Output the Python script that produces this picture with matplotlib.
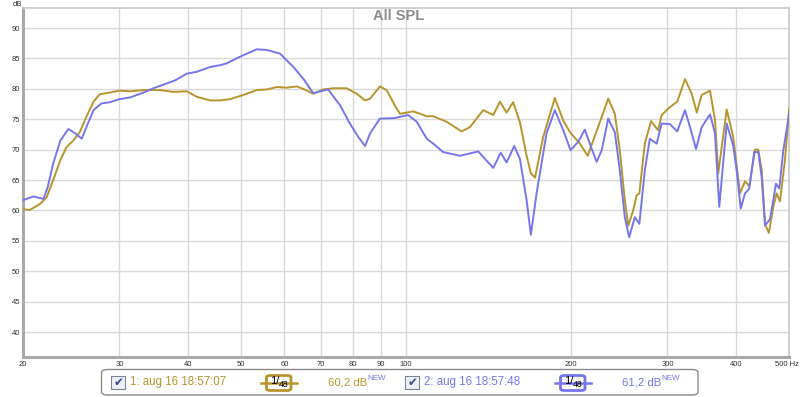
import matplotlib
matplotlib.use("Agg")
import matplotlib.pyplot as plt
from matplotlib.patches import FancyBboxPatch, Rectangle
from matplotlib.lines import Line2D

# ---- data ----
freq1 = [20.0, 20.6, 21.5, 22.1, 22.7, 23.4, 24.0, 24.7, 25.4, 26.1, 26.9, 27.6, 28.8, 30.0,
         31.4, 33.2, 35.6, 37.6, 39.8, 41.5, 43.9, 45.8, 47.7, 50.5, 53.4, 55.7, 58.1, 60.6,
         63.2, 64.9, 67.7, 70.6, 73.7, 77.9, 81.3, 84.2, 86.0, 89.6, 92.2, 95.5, 97.5, 101.7,
         103.1, 109.1, 112.1, 118.6, 126.3, 130.8, 138.3, 144.3, 148.4, 152.6, 156.9, 161.4,
         166.0, 169.0, 172.0, 178.0, 186.9, 193.6, 199.1, 207.6, 214.6, 219.6, 225.8, 233.9,
         240.5, 245.6, 250.8, 254.4, 259.8, 263.6, 266.6, 272.8, 280.0, 288.5, 292.8, 303.1,
         312.6, 323.0, 332.2, 339.4, 346.4, 358.8, 366.4, 371.4, 384.8, 395.5, 407.0, 415.6,
         423.1, 433.3, 439.5, 445.8, 452.1, 459.4, 468.1, 474.8, 481.4, 491.6, 500.4]
spl1 = [60.2, 60.1, 61.1, 62.2, 65.0, 68.3, 70.4, 71.5, 72.9, 75.4, 77.9, 79.1, 79.4, 79.7,
        79.6, 79.8, 79.8, 79.5, 79.6, 78.7, 78.1, 78.1, 78.3, 79.0, 79.8, 79.9, 80.3, 80.2,
        80.4, 80.0, 79.2, 79.9, 80.1, 80.1, 79.2, 78.1, 78.4, 80.4, 79.8, 77.2, 75.9, 76.2,
        76.3, 75.5, 75.5, 74.6, 73.0, 73.7, 76.5, 75.7, 77.9, 76.1, 77.8, 74.5,
        69.0, 66.1, 65.4, 72.1, 78.5, 74.8, 72.9, 71.0, 69.0, 71.5, 74.5, 78.4,
        75.9, 69.9, 61.7, 57.5, 60.0, 62.5, 62.8, 71.0, 74.7, 73.2, 75.7, 77.0,
        77.9, 81.6, 79.2, 76.1, 79.0, 79.7, 74.8, 66.1, 76.6, 72.1, 62.8, 64.8,
        64.0, 70.0, 70.0, 66.6, 57.8, 56.3, 60.6, 62.8, 61.5, 68.3, 76.8]

freq2 = [20.0, 20.9, 21.8, 22.2, 22.7, 23.4, 24.2, 24.9, 25.6, 26.1, 26.9, 27.8, 28.8, 30.0,
         31.4, 33.2, 34.6, 36.1, 37.9, 39.8, 41.5, 43.9, 45.8, 47.1, 49.8, 53.4, 55.7, 58.9,
         62.3, 64.9, 67.7, 72.1, 75.8, 79.0, 81.8, 84.2, 86.0, 89.6, 95.5, 97.5, 100.9, 104.6,
         109.1, 112.1, 116.9, 125.4, 135.5, 139.3, 144.3, 148.9, 152.6, 157.6, 161.4, 166.0,
         169.0, 173.1, 180.5, 186.9, 193.6, 199.7, 206.2, 212.0, 218.1, 222.8, 227.6, 233.9,
         240.5, 245.6, 250.8, 255.4, 261.6, 266.6, 272.8, 278.6, 286.7, 292.8, 303.1, 312.6,
         323.0, 329.9, 338.3, 346.4, 358.8, 366.4, 373.0, 384.8, 395.5, 401.3, 408.2, 415.6,
         423.1, 432.1, 439.5, 445.8, 452.1, 461.8, 473.4, 480.0, 488.2, 500.4]
spl2 = [61.7, 62.3, 61.9, 63.9, 67.7, 71.5, 73.4, 72.7, 71.8, 73.7, 76.5, 77.6, 77.8, 78.3,
        78.6, 79.4, 80.1, 80.7, 81.4, 82.5, 82.8, 83.6, 83.9, 84.2, 85.3, 86.5, 86.4, 85.8,
        83.6, 81.7, 79.3, 79.9, 77.3, 74.3, 72.1, 70.6, 72.7, 75.1, 75.2, 75.4, 75.7, 74.6,
        71.8, 71.0, 69.6, 69.0, 69.7, 68.5, 67.0, 69.5, 67.9, 70.6, 68.5, 61.7,
        56.0, 62.8, 72.7, 76.5, 73.2, 69.9, 71.3, 73.3, 70.2, 68.0, 69.9, 75.1,
        72.9, 66.6, 58.9, 55.6, 58.9, 57.8, 66.6, 71.8, 71.0, 74.3, 74.2, 73.0,
        76.5, 73.7, 70.1, 73.7, 75.8, 72.7, 60.6, 74.3, 70.7, 66.6, 60.3, 62.8,
        63.6, 69.6, 69.6, 65.5, 57.5, 58.6, 64.4, 63.6, 69.9, 75.9]

xticks = [20, 30, 40, 50, 60, 70, 80, 90, 100, 200, 300, 400, 500]
xticklabels = ["20", "30", "40", "50", "60", "70", "80", "90", "100", "200", "300", "400", ""]
xunit_label = "500 Hz"
yticks = [40, 45, 50, 55, 60, 65, 70, 75, 80, 85, 90]

names = ["1: aug 16 18:57:07", "2: aug 16 18:57:48"]
levels = ["60,2 dB", "61,2 dB"]
smooth_num, smooth_den = "1", "48"
colors = ["#B8952C", "#7676EC"]

FONT = ["Liberation Sans", "DejaVu Sans"]

# ---- figure ----
W, H = 800, 397
fig = plt.figure(figsize=(W / 100, H / 100), dpi=100)
fig.patch.set_facecolor("white")
ax = fig.add_axes([23 / W, 1 - 357 / H, (789 - 23) / W, (357 - 8) / H])
ax.set_xscale("log")
ax.set_xlim(20, 500)
ax.set_ylim(35.9, 93.3)

ax.plot(freq1, spl1, color=colors[0], lw=1.4, zorder=3)
ax.plot(freq2, spl2, color=colors[1], lw=1.4, zorder=3)

ax.set_xticks(xticks)
ax.set_xticklabels(xticklabels)
ax.xaxis.set_minor_locator(matplotlib.ticker.NullLocator())
ax.set_yticks(yticks)
ax.tick_params(axis="both", length=0, labelsize=5.5, labelcolor="#333333")
ax.tick_params(axis="x", pad=3)
ax.tick_params(axis="y", pad=2)
for lab in ax.get_xticklabels() + ax.get_yticklabels():
    lab.set_family(FONT)
ax.grid(True, color="#d9d9d9", lw=1.0, zorder=0)

for s in ["top", "right"]:
    ax.spines[s].set_color("#c8c8c8")
    ax.spines[s].set_linewidth(1.2)
for s in ["left", "bottom"]:
    ax.spines[s].set_color("#a8a8a8")
    ax.spines[s].set_linewidth(2.2)

def fx(px):
    return px / W

def fy(py):
    return 1 - py / H

fig.text(fx(799), fy(364), xunit_label, fontsize=5.5, color="#333333", ha="right",
         va="center", family=FONT)
fig.text(fx(17.5), fy(4), "dB", fontsize=5.5, color="#333333", ha="center", va="center",
         family=FONT)
fig.text(fx(399), fy(16), "All SPL", fontsize=10.5, fontweight="bold", color="#8c8c8c",
         ha="center", va="center", family=FONT)

# ---- legend bar ----
box = FancyBboxPatch((fx(101.5), fy(395)), fx(698) - fx(101.5), fy(369.5) - fy(395),
                     boxstyle="round,pad=0,rounding_size=0.008", transform=fig.transFigure,
                     facecolor="white", edgecolor="#8a8a8a", lw=1.0)
fig.patches.append(box)

for i, x0 in enumerate([111, 405]):
    c = colors[i]
    # checkbox
    cb = Rectangle((fx(x0), fy(389)), fx(14), 13.5 / H, transform=fig.transFigure,
                   facecolor="#eef0f6", edgecolor="#7a8696", lw=0.8)
    fig.patches.append(cb)
    fig.text(fx(x0 + 7.3), fy(382.5), "\u2714", fontsize=8.5, color="#34468c",
             ha="center", va="center", family=["DejaVu Sans"])
    fig.text(fx(x0 + 19.5), fy(382.5), names[i], fontsize=8.3, color=c, ha="left",
             va="center", family=FONT)
    # smoothing icon
    sx = x0 + 150
    fig.lines.append(Line2D([fx(sx), fx(sx + 36)], [fy(383), fy(383)],
                            transform=fig.transFigure, color=c, lw=1.8))
    sb = FancyBboxPatch((fx(sx + 5.5), fy(390.5)), fx(24.5), 15 / H,
                        boxstyle="round,pad=0,rounding_size=0.005", transform=fig.transFigure,
                        facecolor="white", edgecolor=c, lw=2.0)
    fig.patches.append(sb)
    fig.text(fx(sx + 13.5), fy(381.5), smooth_num + "/", fontsize=8, color="black",
             ha="center", va="center", family=FONT)
    fig.text(fx(sx + 22.5), fy(384.5), smooth_den, fontsize=6.2, color="black",
             ha="center", va="center", family=FONT)
    # level
    fig.text(fx(x0 + 216.5), fy(382.5), levels[i], fontsize=8.2, color=c, ha="left",
             va="center", family=FONT)
    fig.text(fx(x0 + 256), fy(378), "NEW", fontsize=5.8, color="#7676EC",
             ha="left", va="center", family=FONT)

fig.savefig("out.png", dpi=100, facecolor="white")
